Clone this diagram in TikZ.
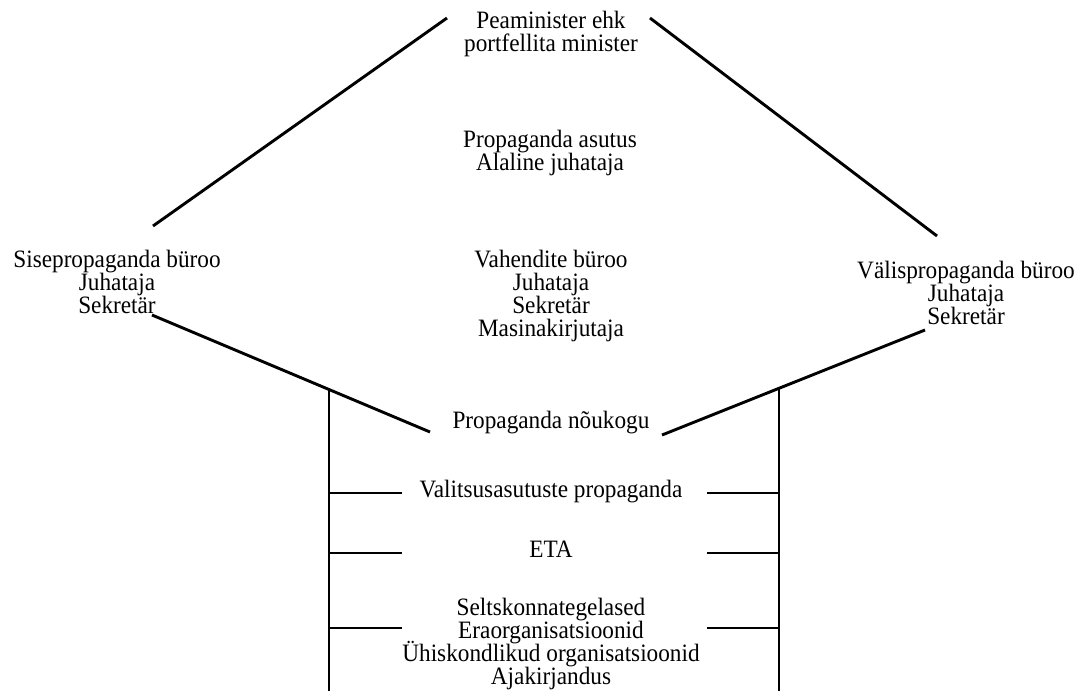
\documentclass[tikz,border=0pt]{standalone}
\usepackage{fontspec}
\setmainfont{Liberation Serif}[FakeStretch=0.93]
\newcommand\mylblfont{\fontsize{25}{23}\selectfont\lineskiplimit=-100pt\relax}
\begin{document}
\begin{tikzpicture}[x=1pt,y=-1pt,
  lbl/.style={anchor=north,inner sep=0pt,align=center,font=\mylblfont},
  ln/.style={line width=2.9pt,black}]
\useasboundingbox (0,0) rectangle (1082,691);
% text nodes
\node[lbl] (pm) at (551,11) {Peaminister ehk\\portfellita minister};
\node[lbl] (asutus) at (550,130) {Propaganda asutus\\Alaline juhataja};
\node[lbl] (sise) at (117,250) {Sisepropaganda büroo\\Juhataja\\Sekretär};
\node[lbl] (vahend) at (551,250) {Vahendite büroo\\Juhataja\\Sekretär\\Masinakirjutaja};
\node[lbl] (valis) at (966,261) {Välispropaganda büroo\\Juhataja\\Sekretär};
\node[lbl] (noukogu) at (551,411) {Propaganda nõukogu};
\node[lbl] (valitsus) at (551,480) {Valitsusasutuste propaganda};
\node[lbl] (eta) at (551,540.5) {ETA};
\node[lbl] (selts) at (551,598) {Seltskonnategelased\\Eraorganisatsioonid\\Ühiskondlikud organisatsioonid\\Ajakirjandus};
% connector end points
\coordinate (pmL) at (447,18);
\coordinate (siseT) at (153,226);
\coordinate (pmR) at (650,18);
\coordinate (valisT) at (937,236);
\coordinate (siseB) at (152,315);
\coordinate (noukL) at (430,432);
\coordinate (valisB) at (925,330);
\coordinate (noukR) at (662,435);
\coordinate (vLtop) at (329,389.5);
\coordinate (vLbot) at (329,691);
\coordinate (vRtop) at (779,388);
\coordinate (vRbot) at (779,691);
\coordinate (t1L) at (402,493);
\coordinate (t1R) at (707,493);
\coordinate (t2L) at (402,553);
\coordinate (t2R) at (707,553);
\coordinate (t3L) at (402,628);
\coordinate (t3R) at (707,628);
% connectors
\draw[ln] (pmL) -- (siseT);
\draw[ln] (pmR) -- (valisT);
\draw[ln] (siseB) -- (noukL);
\draw[ln] (valisB) -- (noukR);
\draw[ln] (vLtop) -- (vLbot);
\draw[ln] (vRtop) -- (vRbot);
\draw[ln] (vLtop |- t1L) -- (t1L);
\draw[ln] (t1R) -- (vRtop |- t1R);
\draw[ln] (vLtop |- t2L) -- (t2L);
\draw[ln] (t2R) -- (vRtop |- t2R);
\draw[ln] (vLtop |- t3L) -- (t3L);
\draw[ln] (t3R) -- (vRtop |- t3R);
\end{tikzpicture}
\end{document}
